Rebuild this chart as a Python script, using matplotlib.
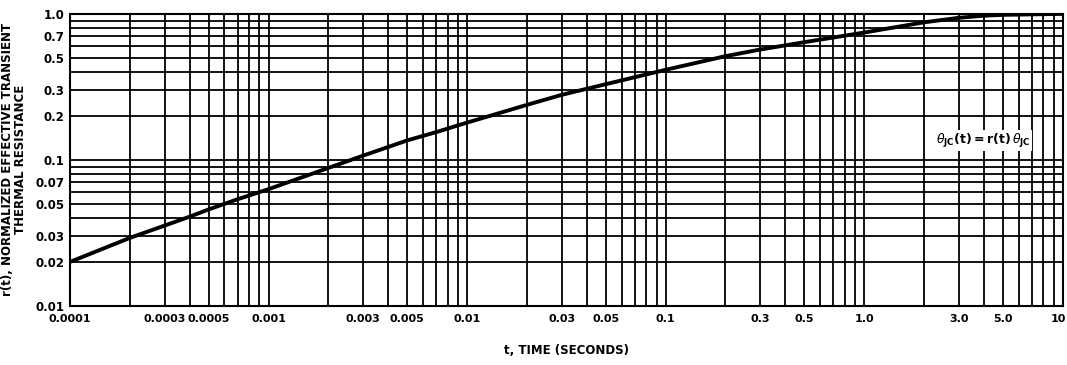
import matplotlib
matplotlib.use("Agg")
import matplotlib.pyplot as plt
from matplotlib.ticker import FixedLocator, NullFormatter
from matplotlib.transforms import ScaledTranslation

# data
t_vals = [0.0001, 0.0002, 0.0003, 0.0004, 0.0005, 0.0007, 0.001, 0.002, 0.003,
          0.005, 0.007, 0.01, 0.02, 0.03, 0.05, 0.1, 0.2, 0.3, 0.5, 1.0,
          2.0, 3.0, 4.0, 5.0, 10.0]
r_vals = [0.020, 0.0292, 0.0355, 0.0408, 0.0458, 0.0538, 0.063, 0.088, 0.107,
          0.136, 0.155, 0.180, 0.238, 0.279, 0.330, 0.414, 0.513, 0.570, 0.640, 0.745,
          0.875, 0.940, 0.972, 0.985, 1.0]

x_ticks = [0.0001, 0.0003, 0.0005, 0.001, 0.003, 0.005, 0.01, 0.03, 0.05,
           0.1, 0.3, 0.5, 1.0, 3.0, 5.0, 10.0]
x_labels = ["0.0001", "0.0003", "0.0005", "0.001", "0.003", "0.005", "0.01",
            "0.03", "0.05", "0.1", "0.3", "0.5", "1.0", "3.0", "5.0", "10"]
y_ticks = [0.01, 0.02, 0.03, 0.05, 0.07, 0.1, 0.2, 0.3, 0.5, 0.7, 1.0]
y_labels = ["0.01", "0.02", "0.03", "0.05", "0.07", "0.1", "0.2", "0.3",
            "0.5", "0.7", "1.0"]

plt.rcParams["font.family"] = ["DejaVu Sans Condensed", "DejaVu Sans"]

fig = plt.figure(figsize=(10.67, 3.65), dpi=100)
ax = fig.add_axes([0.0656, 0.162, 0.9304, 0.800])
ax.set_xscale("log")
ax.set_yscale("log")
ax.set_xlim(1e-4, 10)
ax.set_ylim(0.01, 1.0)

# grid at every 1..9 multiple of each decade
xg = [m * 10.0 ** e for e in range(-4, 1) for m in range(1, 10)] + [10.0]
yg = [m * 10.0 ** e for e in range(-2, 0) for m in range(1, 10)] + [1.0]
for v in xg:
    ax.axvline(v, color="black", lw=1.3, zorder=1)
for v in yg:
    ax.axhline(v, color="black", lw=1.3, zorder=1)

ax.plot(t_vals, r_vals, color="black", lw=2.8, zorder=3,
        solid_joinstyle="round", solid_capstyle="round")

ax.xaxis.set_major_locator(FixedLocator(x_ticks))
ax.xaxis.set_minor_locator(FixedLocator([]))
ax.xaxis.set_minor_formatter(NullFormatter())
ax.set_xticklabels(x_labels, fontsize=8, fontweight="bold")
ax.yaxis.set_major_locator(FixedLocator(y_ticks))
ax.yaxis.set_minor_locator(FixedLocator([]))
ax.yaxis.set_minor_formatter(NullFormatter())
ax.set_yticklabels(y_labels, fontsize=8.5, fontweight="bold")
ax.tick_params(axis="x", length=0, pad=6)
ax.tick_params(axis="y", length=0, pad=4)
for s in ax.spines.values():
    s.set_linewidth(1.5)

# keep the last x label inside the figure
last = ax.get_xticklabels()[-1]
last.set_horizontalalignment("right")
last.set_transform(last.get_transform() + ScaledTranslation(3 / 100, 0, fig.dpi_scale_trans))

ax.set_xlabel("t, TIME (SECONDS)", fontsize=8.5, fontweight="bold", labelpad=14)
ax.set_ylabel("r(t), NORMALIZED EFFECTIVE TRANSIENT\nTHERMAL RESISTANCE",
              fontsize=8.5, fontweight="bold", labelpad=6, linespacing=1.0)

ax.text(2.3, 0.135, r"$\theta_{\mathbf{JC}}\mathbf{(t) = r(t)}\,\theta_{\mathbf{JC}}$",
        fontsize=9, ha="left", va="center", zorder=4,
        bbox=dict(facecolor="white", edgecolor="none", pad=1))

fig.savefig("out.png", dpi=100)
